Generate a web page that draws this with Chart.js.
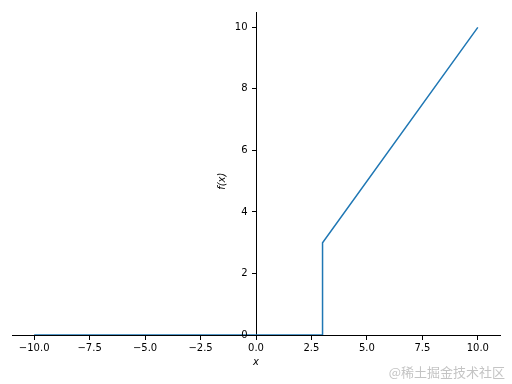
<!DOCTYPE html>
<html>
<head>
<meta charset="utf-8">
<script src="https://cdn.jsdelivr.net/npm/chart.js@4/dist/chart.umd.min.js"></script>
<style>
  html, body { margin: 0; padding: 0; background: #fff; }
  #wrap { position: relative; width: 512px; height: 384px; }
  #mark { position: absolute; right: 7px; top: 362px; font: 13px "Noto Sans CJK SC", sans-serif; color: #c4c4c4; }
</style>
</head>
<body>
<div id="wrap">
  <canvas id="myChart" width="512" height="384"></canvas>
  <div id="mark">@稀土掘金技术社区</div>
</div>
<script>
// piecewise f(x): 0 below 3, x from 3 on
const xs = [-10, 3, 3, 10];
const ys = [0, 0, 3, 10];
const xTicks = [-10, -7.5, -5, -2.5, 0, 2.5, 5, 7.5, 10];
const yTicks = [0, 2, 4, 6, 8, 10];

Chart.defaults.font.family = "DejaVu Sans";
Chart.defaults.font.size = 10;
Chart.defaults.color = "#000";

const minus = (s) => s.replace("-", "\u2212");

// y tick labels and axis titles next to the centred spines
// (chart.js puts object-positioned y labels right on the spine)
const axisText = {
  id: "axisText",
  afterDraw(chart) {
    const { ctx, scales } = chart;
    const x0 = scales.x.getPixelForValue(0);
    const y0 = scales.y.getPixelForValue(0);
    ctx.save();
    ctx.fillStyle = "#000";
    ctx.font = "10px 'DejaVu Sans'";
    ctx.textAlign = "right";
    ctx.textBaseline = "middle";
    scales.y.ticks.forEach((t) => {
      ctx.fillText(String(t.value), x0 - 8.5, scales.y.getPixelForValue(t.value));
    });
    ctx.font = "italic 10px 'DejaVu Sans'";
    ctx.textAlign = "center";
    ctx.fillText("x", x0, y0 + 27);
    ctx.translate(x0 - 34, scales.y.getPixelForValue(5));
    ctx.rotate(-Math.PI / 2);
    ctx.fillText("f(x)", 0, 0);
    ctx.restore();
  },
};

const data = {
  datasets: [
    {
      data: xs.map((x, i) => ({ x: x, y: ys[i] })),
      borderColor: "#1f77b4",
      borderWidth: 1.5,
      pointRadius: 0,
      showLine: true,
      fill: false,
    },
  ],
};

const config = {
  type: "scatter",
  data: data,
  options: {
    responsive: false,
    animation: false,
    events: [],
    layout: { padding: { left: 12, right: 12, top: 12, bottom: 49 } },
    plugins: { legend: { display: false }, tooltip: { enabled: false } },
    scales: {
      x: {
        type: "linear",
        min: -11,
        max: 11,
        position: { y: 0 },
        afterFit: (s) => { s.height = 0; },
        afterBuildTicks: (s) => { s.ticks = xTicks.map((v) => ({ value: v })); },
        grid: { drawOnChartArea: false, tickLength: 4, color: "#000", tickWidth: 1 },
        border: { color: "#000", width: 1 },
        ticks: { padding: 3, maxRotation: 0, callback: (v) => minus(v.toFixed(1)) },
      },
      y: {
        type: "linear",
        min: 0,
        max: 10.5,
        position: { x: 0 },
        afterFit: (s) => { s.width = 0; },
        afterBuildTicks: (s) => { s.ticks = yTicks.map((v) => ({ value: v })); },
        grid: { drawOnChartArea: false, tickLength: 4, color: "#000", tickWidth: 1 },
        border: { color: "#000", width: 1 },
        ticks: { display: false },
      },
    },
  },
  plugins: [axisText],
};

const chart = new Chart(document.getElementById("myChart"), config);
</script>
</body>
</html>
